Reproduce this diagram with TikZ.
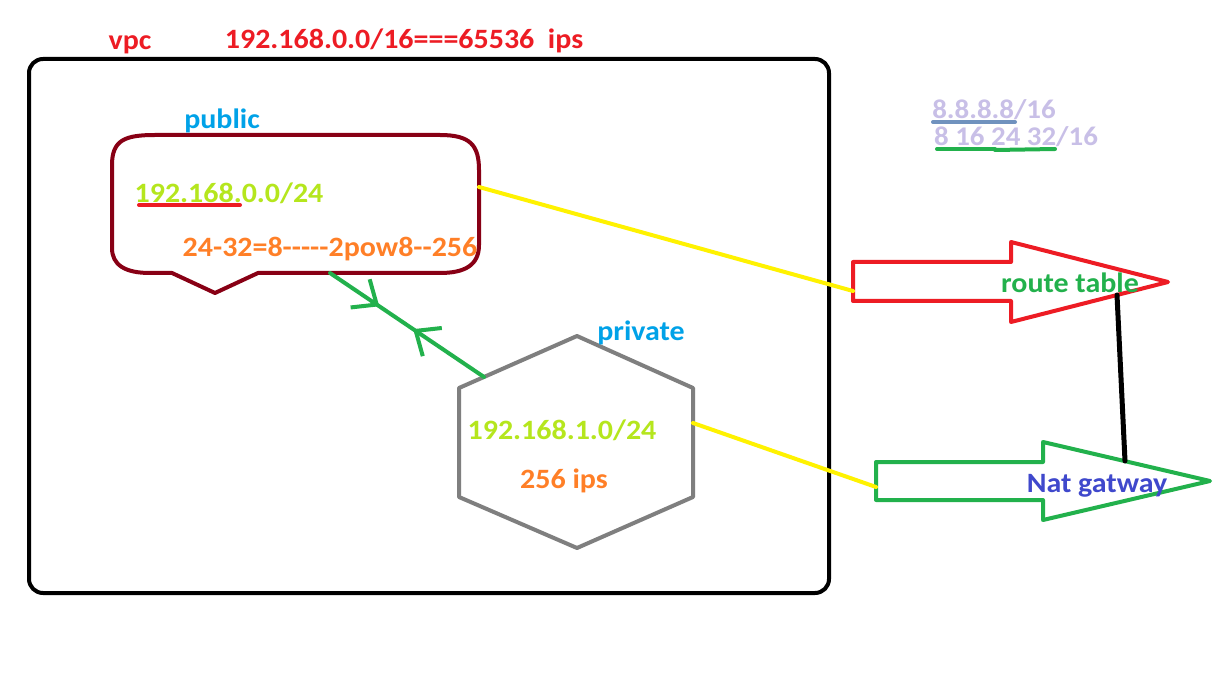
\documentclass[tikz,border=0pt]{standalone}
\usepackage{fontspec}
\setmainfont{Carlito}[Ligatures=TeXOff, FakeStretch=1.07]
\usetikzlibrary{arrows.meta,decorations.markings}
\definecolor{vpcred}{HTML}{ED1C24}
\definecolor{darkred}{HTML}{880015}
\definecolor{skyb}{HTML}{00A2E8}
\definecolor{lime}{HTML}{B5E61D}
\definecolor{orng}{HTML}{FF7F27}
\definecolor{grn}{HTML}{22B14C}
\definecolor{ylw}{HTML}{FFF200}
\definecolor{hexgray}{HTML}{7F7F7F}
\definecolor{indig}{HTML}{3F48CC}
\definecolor{lav}{HTML}{C8BFE7}
\definecolor{bgray}{HTML}{7092BE}
\begin{document}
\begin{tikzpicture}[x=1pt,y=-1pt,
  txt/.style={inner sep=0pt, font=\bfseries\fontsize{28}{28}\selectfont},
  smalltxt/.style={inner sep=0pt, font=\bfseries\fontsize{27}{27}\selectfont},
  outline/.style={line width=4pt, line join=round},
  conn/.style={line width=4pt, line cap=round},
  uline/.style={line width=4pt, line cap=round},
  barb/.style={line width=4pt, line cap=round, line join=round}]
\useasboundingbox[fill=white] (0,0) rectangle (1223,700);

% vpc frame
\draw[outline, black, rounded corners=14pt] (29,59) rectangle (829,593);

% public callout
\draw[outline, darkred]
  (112,165) .. controls (112,140) and (125,135) .. (155,135) -- (440,135)
  .. controls (470,135) and (479,145) .. (479,170) -- (479,245)
  .. controls (479,265) and (465,273) .. (440,273) -- (258,273) -- (215,293) -- (172,273) -- (150,273)
  .. controls (125,273) and (112,265) .. (112,248) -- cycle;
\coordinate (pubR) at (479,187);
\coordinate (pubB) at (330,273);

% private hexagon
\draw[outline, hexgray] (577,336) -- (693,388) -- (693,497) -- (577,548) -- (459,497) -- (459,388) -- cycle;
\coordinate (hexUL) at (484,377);
\coordinate (hexR) at (693,423);

% route table arrow
\draw[outline, vpcred] (853,262) -- (1011,262) -- (1011,242) -- (1168,282) -- (1011,322) -- (1011,301) -- (853,301) -- cycle;
\coordinate (rtL) at (853,291);
\coordinate (rtB) at (1117,295);

% nat gateway arrow
\draw[outline, grn] (876,462) -- (1043,462) -- (1043,442) -- (1210,481) -- (1043,520) -- (1043,500) -- (876,500) -- cycle;
\coordinate (natL) at (876,487);
\coordinate (natT) at (1125,461);

% texts
\node[txt, text=vpcred] (vpclabel) at (130,45) {vpc};
\node[txt, text=vpcred] (cidr) at (404,41) {192.168.0.0/16===65536 \ ips};
\node[txt, text=skyb] (publabel) at (222,121) {public};
\node[txt, text=lime] (pubip) at (229,193) {192.168.0.0/24};
\node[txt, text=orng] (pubcalc) at (330,249) {24-32=8-----2pow8--256};
\node[txt, text=skyb] (privlabel) at (641,333) {private};
\node[txt, text=lime] (privip) at (562,430) {192.168.1.0/24};
\node[txt, text=orng] (privn) at (564,481) {256 ips};
\node[txt, text=grn] (rtlabel) at (1070,283) {route table};
\node[txt, text=indig] (natlabel) at (1097,486) {Nat gatway};
\node[smalltxt, text=lav] (ipa) at (994,110) {8.8.8.8/16};
\node[smalltxt, text=lav] (ipb) at (1016,137) {8 16 24 32/16};

% underlines
\draw[uline, vpcred] (139,205) -- (240,205);
\draw[uline, bgray] (933,122) -- (1015,122);
\draw[uline, grn] (937,149) -- (995,149);
\draw[uline, grn] (995,150) -- (1055,149);

% connectors
\draw[conn, ylw] (pubR) -- (rtL);
\draw[conn, ylw] (hexR) -- (natL);
\draw[conn, black, line width=5pt] (rtB) -- (natT);
\draw[conn, grn, postaction={decorate}, decoration={markings,
    mark=at position 0.32 with {\arrow[barb]{Straight Barb[length=20pt,width=34pt]}},
    mark=at position 0.54 with {\arrowreversed[barb]{Straight Barb[length=20pt,width=34pt]}}}]
  (pubB) -- (hexUL);
\end{tikzpicture}
\end{document}
